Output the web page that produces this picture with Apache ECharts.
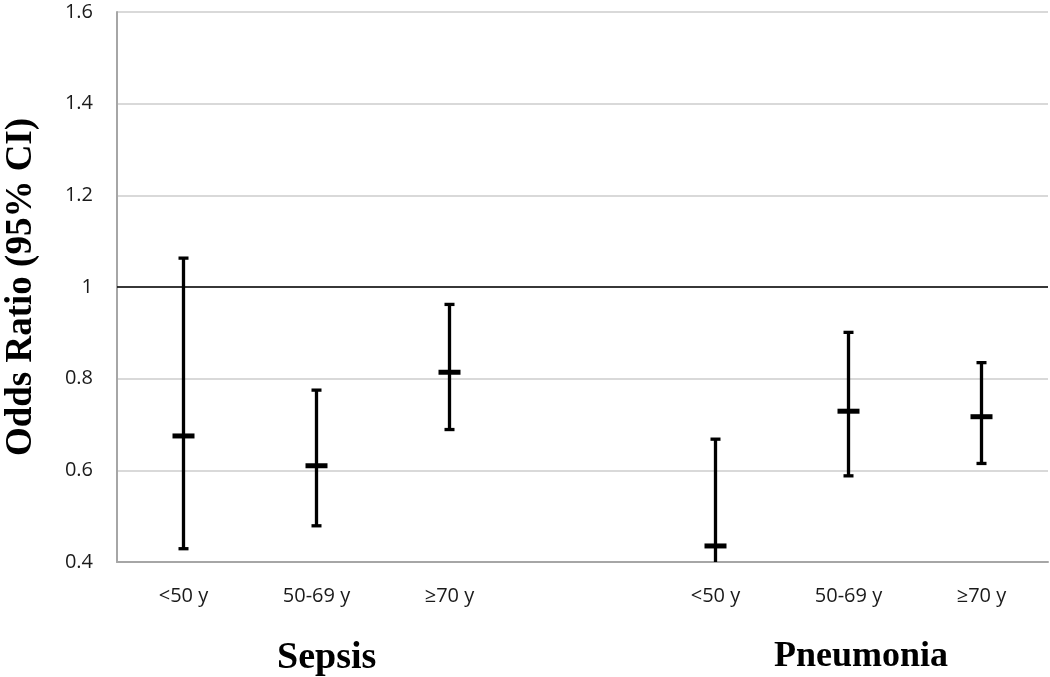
<!DOCTYPE html>
<html>
<head>
<meta charset="utf-8">
<script src="https://cdn.jsdelivr.net/npm/echarts@6/dist/echarts.min.js"></script>
<style>
  html, body { margin: 0; padding: 0; background: #ffffff; }
  #chart { width: 1050px; height: 677px; }
</style>
</head>
<body>
<div id="chart"></div>
<script>
// ---- data ----
var categories = ['<50 y', '50-69 y', '\u226570 y', '', '<50 y', '50-69 y', '\u226570 y'];
var oddsRatio  = [0.675, 0.610, 0.814, null, 0.435, 0.729, 0.717];
var ciLow      = [0.429, 0.479, 0.689, null, 0.390, 0.588, 0.615];
var ciHigh     = [1.063, 0.775, 0.962, null, 0.668, 0.901, 0.835];
var groupNames = ['Sepsis', 'Pneumonia'];
var referenceValue = 1;
var yTicks = { min: 0.4, max: 1.6, interval: 0.2 };

// ---- build ----
var errData = [];
for (var i = 0; i < categories.length; i++) {
  if (oddsRatio[i] != null) errData.push([i, ciLow[i], ciHigh[i], oddsRatio[i]]);
}

function renderErr(params, api) {
  var x = api.value(0);
  var lo = api.coord([x, api.value(1)]);
  var hi = api.coord([x, api.value(2)]);
  var mid = api.coord([x, api.value(3)]);
  var capW = 5, meanW = 11;
  var style = { stroke: '#000', lineWidth: 3.3 };
  return {
    type: 'group',
    children: [
      { type: 'line', shape: { x1: lo[0], y1: lo[1], x2: hi[0], y2: hi[1] }, style: style },
      { type: 'line', shape: { x1: hi[0] - capW, y1: hi[1], x2: hi[0] + capW, y2: hi[1] }, style: style },
      { type: 'line', shape: { x1: lo[0] - capW, y1: lo[1], x2: lo[0] + capW, y2: lo[1] }, style: style },
      { type: 'line', shape: { x1: mid[0] - meanW, y1: mid[1], x2: mid[0] + meanW, y2: mid[1] }, style: { stroke: '#000', lineWidth: 5 } }
    ]
  };
}

var chart = echarts.init(document.getElementById('chart'), null, { renderer: 'canvas' });
chart.setOption({
  backgroundColor: '#ffffff',
  animation: false,
  grid: { left: 117, right: 2, top: 12, bottom: 115, containLabel: false, outerBoundsMode: 'none' },
  xAxis: {
    type: 'category',
    data: categories,
    boundaryGap: true,
    axisLine: { show: true, lineStyle: { color: '#a6a6a6', width: 2 } },
    axisTick: { show: false },
    axisLabel: { color: '#1a1a1a', fontFamily: 'Open Sans', fontSize: 20, margin: 24, interval: 0 },
    splitLine: { show: false }
  },
  yAxis: {
    type: 'value',
    min: yTicks.min, max: yTicks.max, interval: yTicks.interval,
    name: 'Odds Ratio (95% CI)',
    nameLocation: 'middle',
    nameGap: 77,
    nameRotate: 90,
    nameTextStyle: { fontFamily: 'Liberation Serif', fontWeight: 'bold', fontSize: 37, color: '#000' },
    axisLine: { show: true, lineStyle: { color: '#a6a6a6', width: 2 } },
    axisTick: { show: false },
    axisLabel: {
      color: '#1a1a1a', fontFamily: 'Open Sans', fontSize: 20, margin: 24,
      formatter: function (v) { return (Math.round(v * 10) / 10).toString(); }
    },
    splitLine: { show: true, lineStyle: { color: '#cccccc', width: 1.5 } }
  },
  series: [
    {
      type: 'custom',
      renderItem: renderErr,
      data: errData,
      clip: true,
      encode: { x: 0, y: [1, 2, 3] },
      markLine: {
        silent: true,
        symbol: 'none',
        label: { show: false },
        lineStyle: { color: '#000', width: 1.6, type: 'solid' },
        data: [{ yAxis: referenceValue }]
      }
    }
  ],
  graphic: [
    { type: 'text', left: 277, top: 639, style: { text: groupNames[0], font: 'bold 38px "Liberation Serif"', fill: '#000' } },
    { type: 'text', left: 774, top: 639, style: { text: groupNames[1], font: 'bold 36px "Liberation Serif"', fill: '#000' } }
  ]
});
</script>
</body>
</html>
